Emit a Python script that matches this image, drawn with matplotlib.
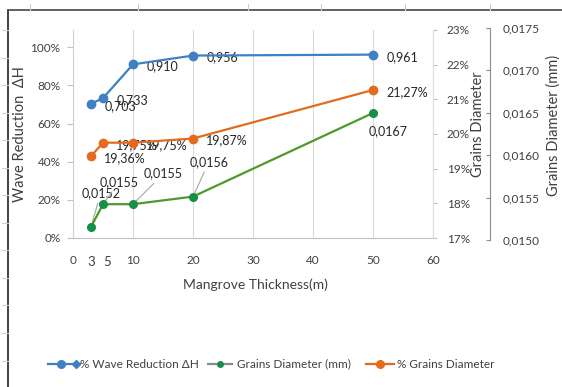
import matplotlib
matplotlib.use("Agg")
import matplotlib.pyplot as plt
from matplotlib.lines import Line2D
from matplotlib.ticker import FuncFormatter, FixedLocator

plt.rcParams['font.family'] = ['Lato', 'DejaVu Sans']

# ---- data ----
thickness = [3, 5, 10, 20, 50]
wave_reduction = [0.703, 0.733, 0.910, 0.956, 0.961]
grain_pct = [19.36, 19.75, 19.75, 19.87, 21.27]
grain_mm = [0.0152, 0.0155, 0.0155, 0.0156, 0.0167]

x_ticks = [0, 10, 20, 30, 40, 50, 60]
x_extra_ticks = [3, 5]
left_ticks = [0, 0.2, 0.4, 0.6, 0.8, 1.0]
pct_ticks = [17, 18, 19, 20, 21, 22, 23]
mm_ticks = [0.0150, 0.0155, 0.0160, 0.0165, 0.0170, 0.0175]

BLUE = '#3F7FC4'
ORANGE = '#E26B1F'
GREEN_LINE = '#4D9A2B'
GREEN_MARK = '#169046'
TXT = '#404040'
W, H = 562, 387


def fx(px):
    return px / W


def fy(py):
    return 1 - py / H


fig = plt.figure(figsize=(W / 100, H / 100), dpi=100)

# main axes (left: wave reduction)
x0, x1, yt, yb = 73, 433, 30, 238
ax = fig.add_axes([fx(x0), fy(yb), (x1 - x0) / W, (yb - yt) / H])
ax.set_xlim(0, 60)
ax.set_ylim(0, 1.09)
ax.xaxis.set_major_locator(FixedLocator(x_ticks))
ax.yaxis.set_major_locator(FixedLocator(left_ticks))
ax.yaxis.set_major_formatter(FuncFormatter(lambda v, p: f"{v*100:.0f}%"))
ax.grid(axis='x', color='#D9D9D9', lw=0.8)
ax.set_axisbelow(True)
for s in ['top', 'right']:
    ax.spines[s].set_visible(False)
ax.spines['left'].set_color('#D0D0D0')
ax.spines['bottom'].set_color('#BFBFBF')
ax.tick_params(axis='x', length=0, pad=12, labelsize=8.5, labelcolor=TXT)
ax.tick_params(axis='y', length=4, color='#BFBFBF', pad=5, labelsize=8.5,
               labelcolor=TXT)
for v in x_extra_ticks:
    ax.annotate(str(v), xy=(v, 0), xycoords=('data', 'axes fraction'),
                xytext=(0 if v == 3 else 3, -17.5), textcoords='offset points',
                ha='center', va='center', fontsize=9.5, color=TXT)
ax.set_xlabel('Mangrove Thickness(m)', fontsize=10, color=TXT)
ax.xaxis.set_label_coords(fx(255), fy(278), transform=fig.transFigure)
ax.set_ylabel('Wave Reduction  ΔH', fontsize=10.5, color=TXT)
ax.yaxis.set_label_coords(fx(27), fy(134), transform=fig.transFigure)

# secondary axis: % grains diameter
ax2 = ax.twinx()
ax2.set_ylim(17, 23)
ax2.yaxis.set_major_locator(FixedLocator(pct_ticks))
ax2.yaxis.set_major_formatter(FuncFormatter(lambda v, p: f"{v:.0f}%"))
for s in ['top', 'left', 'bottom']:
    ax2.spines[s].set_visible(False)
ax2.spines['right'].set_color('#DDDDDD')
ax2.tick_params(axis='y', length=3, color='#BFBFBF', pad=7, labelsize=8.5,
                labelcolor=TXT)
ax2.set_ylabel('Grains Diameter', fontsize=10.5, color=TXT)
ax2.yaxis.set_label_coords(fx(471), fy(124), transform=fig.transFigure)

# hidden axis carrying the grain size (mm) series
ax4 = ax.twinx()
ax4.set_ylim(0.0150553, 0.017792)
ax4.axis('off')

# stand-alone mm scale
ax3 = fig.add_axes([fx(490) - 0.001, fy(240), 0.001, 212 / H])
ax3.set_ylim(0.0150, 0.0175)
ax3.set_xticks([])
ax3.patch.set_visible(False)
for s in ['top', 'left', 'bottom']:
    ax3.spines[s].set_visible(False)
ax3.spines['right'].set_color('#8C8C8C')
ax3.yaxis.tick_right()
ax3.yaxis.set_major_locator(FixedLocator(mm_ticks))
ax3.yaxis.set_major_formatter(
    FuncFormatter(lambda v, p: f"{v:.4f}".replace('.', ',')))
ax3.tick_params(axis='y', direction='in', length=3, color='#8C8C8C', pad=9,
                labelsize=8.5, labelcolor=TXT)
ax3.yaxis.set_label_position('right')
ax3.set_ylabel('Grains Diameter (mm)', fontsize=10.5, color=TXT)
ax3.yaxis.set_label_coords(fx(546), fy(125), transform=fig.transFigure)

# series
ax.plot(thickness, wave_reduction, color=BLUE, lw=1.6, marker='o', ms=6,
        zorder=5)
ax2.plot(thickness, grain_pct, color=ORANGE, lw=1.6, marker='o', ms=6,
         zorder=5)
ax4.plot(thickness, grain_mm, color=GREEN_LINE, lw=1.6, marker='o', ms=5.5,
         mfc=GREEN_MARK, mec=GREEN_MARK, zorder=5)

# data labels
for xv, v in zip(thickness, wave_reduction):
    ax.annotate(f"{v:.3f}".replace('.', ','), xy=(xv, v),
                xytext=(9.5, -1.5), textcoords='offset points',
                ha='left', va='center', fontsize=9, color='#262626')
for xv, v in zip(thickness, grain_pct):
    ax2.annotate(f"{v:.2f}%".replace('.', ','), xy=(xv, v),
                 xytext=(9.5, -1.5), textcoords='offset points',
                 ha='left', va='center', fontsize=9, color='#262626')

mm_offsets = [(7, 24.5), (11.5, 16), (22, 22), (11.5, 25), (11, -13)]
for (xv, v), off in zip(zip(thickness, grain_mm), mm_offsets):
    leader = None if off[1] < 0 else dict(arrowstyle='-', color='#A6A6A6',
                                          lw=0.8, shrinkA=1, shrinkB=3)
    ax4.annotate(f"{v:.4f}".replace('.', ','), xy=(xv, v), xytext=off,
                 textcoords='offset points', ha='center', va='center',
                 fontsize=9, color='#262626', arrowprops=leader)

# outer frame
fig.add_artist(Line2D([fx(8), fx(8)], [fy(10), 0], color='#333333', lw=1.3))
fig.add_artist(Line2D([fx(8), 1], [fy(10), fy(10)], color='#555555', lw=1.3))
for px in [30, 138, 248, 321, 405, 490]:
    fig.add_artist(Line2D([fx(px), fx(px)], [fy(4), fy(10)],
                          color='#CFCFCF', lw=0.8))
for py in [30, 58, 85, 113, 140, 168, 195, 223, 250, 278, 305, 333, 361]:
    fig.add_artist(Line2D([fx(2), fx(8)], [fy(py), fy(py)],
                          color='#CFCFCF', lw=0.8))

# legend
ly = fy(364)
fig.add_artist(Line2D([fx(48), fx(80)], [ly, ly], color=BLUE, lw=1.6))
fig.add_artist(Line2D([fx(61)], [ly], color=BLUE, marker='o', ms=5.5, lw=0))
fig.add_artist(Line2D([fx(76)], [ly], color=BLUE, marker='D', ms=4.5, lw=0))
fig.text(fx(80), ly, '% Wave Reduction ΔH', fontsize=8.5, color=TXT,
         va='center', ha='left')
fig.add_artist(Line2D([fx(208), fx(232)], [ly, ly], color='#8C8C8C', lw=1.6))
fig.add_artist(Line2D([fx(220)], [ly], color=GREEN_MARK, marker='o', ms=4,
                      lw=0))
fig.text(fx(237), ly, 'Grains Diameter (mm)', fontsize=8.5, color=TXT,
         va='center', ha='left')
fig.add_artist(Line2D([fx(366), fx(394)], [ly, ly], color=ORANGE, lw=1.6))
fig.add_artist(Line2D([fx(380)], [ly], color=ORANGE, marker='o', ms=5.5,
                      lw=0))
fig.text(fx(397), ly, '% Grains Diameter', fontsize=8.5, color=TXT,
         va='center', ha='left')

fig.savefig('out.png', dpi=100)
